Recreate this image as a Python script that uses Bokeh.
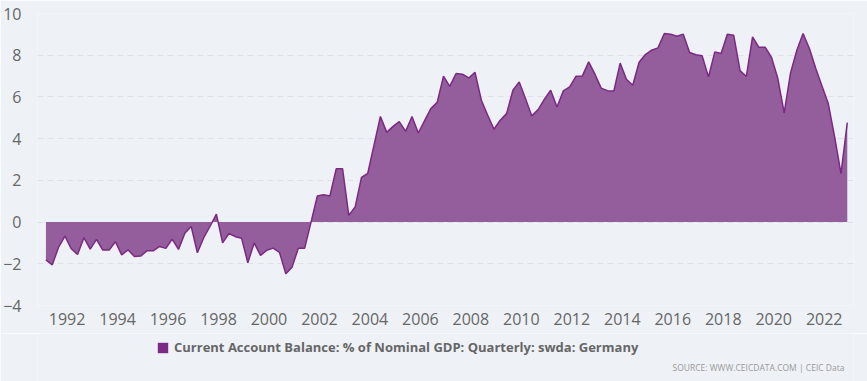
import pandas as pd
from bokeh.plotting import figure
from bokeh.layouts import column
from bokeh.models import (Range1d, FixedTicker, DatetimeTickFormatter, Legend,
                          LegendItem, Label, ColumnDataSource)
from bokeh.embed import file_html
from bokeh.resources import INLINE

series_name = "Current Account Balance: % of Nominal GDP: Quarterly: swda: Germany"
source_note = "SOURCE: WWW.CEICDATA.COM | CEIC Data"
first_quarter = "1991Q1"
values = [
    -1.81, -2.05, -1.20, -0.67, -1.28, -1.55, -0.75, -1.30, -0.83, -1.34,
    -1.34, -0.94, -1.58, -1.33, -1.65, -1.63, -1.38, -1.38, -1.17, -1.26,
    -0.82, -1.31, -0.53, -0.21, -1.47, -0.75, -0.20, 0.38, -1.00, -0.55,
    -0.70, -0.78, -1.95, -1.00, -1.60, -1.35, -1.25, -1.45, -2.48, -2.16,
    -1.25, -1.25, 0.00, 1.25, 1.31, 1.25, 2.56, 2.56, 0.32, 0.72,
    2.14, 2.34, 3.70, 5.06, 4.30, 4.59, 4.82, 4.35, 5.06, 4.27,
    4.85, 5.44, 5.74, 7.00, 6.51, 7.12, 7.09, 6.91, 7.18, 5.84,
    5.12, 4.45, 4.88, 5.20, 6.32, 6.72, 5.92, 5.09, 5.39, 5.89,
    6.32, 5.52, 6.29, 6.48, 6.99, 7.00, 7.68, 7.09, 6.42, 6.30,
    6.29, 7.62, 6.85, 6.56, 7.66, 8.03, 8.24, 8.35, 9.04, 9.01,
    8.91, 9.01, 8.13, 8.02, 7.97, 6.96, 8.16, 8.08, 9.01, 8.96,
    7.26, 6.98, 8.88, 8.38, 8.38, 7.89, 6.88, 5.23, 7.15, 8.24,
    9.04, 8.32, 7.36, 6.51, 5.68, 4.08, 2.32, 4.77,
]
y_ticks = [-4, -2, 0, 2, 4, 6, 8, 10]
tick_years = list(range(1992, 2023, 2))

quarters = pd.period_range(first_quarter, periods=len(values), freq="Q")
dates = [q.asfreq("M", "end").start_time for q in quarters]
src = ColumnDataSource(dict(x=dates, y=values, zero=[0.0] * len(values)))

BG = "#eef2f7"
FILL = "#945d9b"
LINE = "#7b2a83"
SWATCH = "#7b2a85"

p = figure(width=867, height=333, output_backend="svg", toolbar_location=None,
           x_axis_type="datetime",
           x_range=Range1d(pd.Timestamp("1990-10-30"), pd.Timestamp("2023-03-01")),
           y_range=Range1d(-4, 10),
           background_fill_color=BG, border_fill_color=BG,
           min_border_left=33, min_border_right=14, min_border_top=13,
           min_border_bottom=28)
p.outline_line_color = None

p.varea(x="x", y1="zero", y2="y", source=src, fill_color=FILL)
p.line(x="x", y="y", source=src, line_color=LINE, line_width=1.5)

p.xgrid.grid_line_color = None
p.ygrid.grid_line_color = "#dde2e8"
p.ygrid.grid_line_dash = "6 4"
p.ygrid.grid_line_width = 1

p.yaxis.ticker = FixedTicker(ticks=y_ticks)
p.yaxis.major_label_overrides = {t: (f"\u2212{abs(t)}" if t < 0 else str(t)) for t in y_ticks}
p.xaxis.ticker = FixedTicker(ticks=[pd.Timestamp(f"{y}-01-01").value / 1e6 for y in tick_years])
fmt = "%Y"
p.xaxis.formatter = DatetimeTickFormatter(years=fmt, months=fmt, days=fmt, hours=fmt,
                                          minutes=fmt, seconds=fmt, milliseconds=fmt,
                                          microseconds=fmt, hourmin=fmt, minsec=fmt)
for ax in (p.xaxis[0], p.yaxis[0]):
    ax.axis_line_color = None
    ax.major_tick_line_color = None
    ax.minor_tick_line_color = None
    ax.major_label_text_font = "Open Sans"
    ax.major_label_text_font_size = "16px"
    ax.major_label_text_color = "#666666"
p.yaxis.major_label_standoff = 10
p.xaxis.major_label_standoff = 1

# footer strip: legend + source note
f = figure(width=867, height=48, output_backend="svg", toolbar_location=None,
           x_range=Range1d(0, 1), y_range=Range1d(0, 1),
           x_axis_location=None, y_axis_location=None,
           background_fill_color=BG, border_fill_color=BG,
           min_border_left=33, min_border_right=14, min_border_top=0,
           min_border_bottom=0)
f.outline_line_color = None
f.grid.grid_line_color = None
nan = float("nan")
swatch = f.quad(left=[nan], right=[nan], top=[nan], bottom=[nan],
                fill_color=SWATCH, line_color=None)

legend = Legend(items=[LegendItem(label=series_name, renderers=[swatch])],
                location=(119, 25), orientation="horizontal",
                background_fill_alpha=0, border_line_color=None,
                padding=0, margin=0, spacing=0,
                glyph_width=13, glyph_height=13, label_height=13,
                label_standoff=5,
                label_text_font="Open Sans", label_text_font_size="13px",
                label_text_font_style="bold", label_text_color="#666666")
f.add_layout(legend, "center")

f.add_layout(Label(x=807, y=14, x_units="screen", y_units="screen",
                   text=source_note, text_align="right", text_baseline="middle",
                   text_font="Open Sans", text_font_size="8.5px",
                   text_color="#999999"))

page = column(p, f, spacing=0)
open("out.html", "w").write(file_html(page, INLINE))
